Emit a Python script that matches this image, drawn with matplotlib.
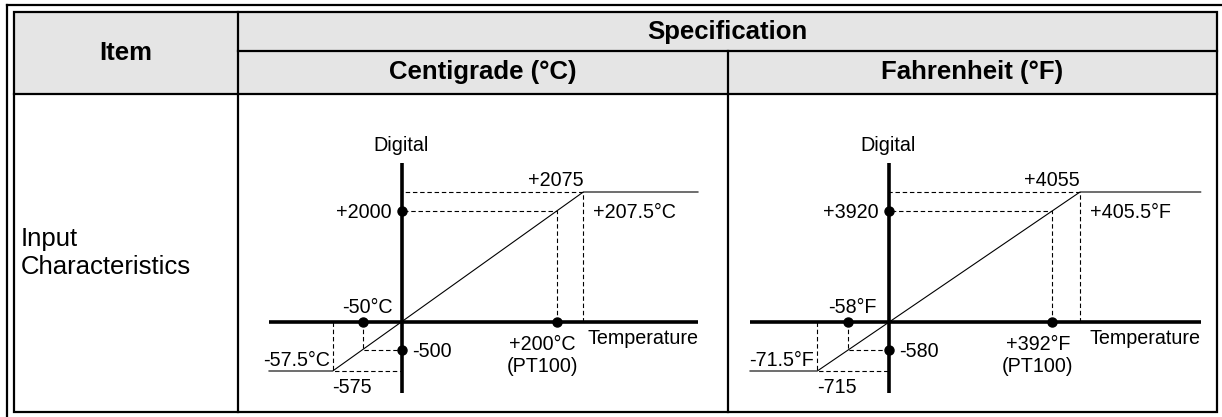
import numpy as np
import matplotlib
matplotlib.use("Agg")
import matplotlib.pyplot as plt
from matplotlib.patches import Rectangle

plt.rcParams['font.family'] = ['Liberation Sans', 'DejaVu Sans']

# table text
item_header = "Item"
spec_header = "Specification"
unit_headers = ["Centigrade (°C)", "Fahrenheit (°F)"]
row_label = "Input\nCharacteristics"

# transfer characteristic: low limit, low point, zero, high point, high limit
centi_temp = [-57.5, -50, 0, 200, 207.5]
centi_digital = [-575, -500, 0, 2000, 2075]
fahr_temp = [-71.5, -58, 0, 392, 405.5]
fahr_digital = [-715, -580, 0, 3920, 4055]
units = ["°C", "°F"]

# layout (pixels), the diagram is schematic so the axes use a knotted scale
W, H = 1222, 417
L, T, R, B = 14, 12.3, 1216.7, 412.3
C1, C2, R1, R2 = 238, 728, 50.7, 94
AX_TOP, AX_BOT, ORIGIN_Y = 163, 393, 322.3
Y_OFFS = [-48.7, -27.7, 0, 111.3, 130.3]
panels = [
    dict(box=(269, 698), origin=401.7, xoffs=[-69, -39, 0, 155, 181.6]),
    dict(box=(750, 1200.7), origin=889, xoffs=[-71.7, -41.3, 0, 162.7, 191]),
]

fig = plt.figure(figsize=(W / 100, H / 100), dpi=100)
base = fig.add_axes([0, 0, 1, 1])
base.set_xlim(0, W)
base.set_ylim(H, 0)
base.axis('off')

# table frame
base.add_patch(Rectangle((L, T), R - L, R2 - T, facecolor='#e5e5e5', edgecolor='none'))
lw = 1.6
base.plot([7, W], [5, 5], color='k', lw=lw)
base.plot([7, 7], [5, H], color='k', lw=lw)
base.add_patch(Rectangle((L, T), R - L, B - T, facecolor='none', edgecolor='k', lw=lw))
base.plot([C1, C1], [T, B], color='k', lw=lw)
base.plot([C1, R], [R1, R1], color='k', lw=lw)
base.plot([L, R], [R2, R2], color='k', lw=lw)
base.plot([C2, C2], [R1, B], color='k', lw=lw)

hfont = dict(fontsize=18.5, fontweight='bold', va='center', ha='center')
base.text((L + C1) / 2, (T + R2) / 2, item_header, **hfont)
base.text((C1 + R) / 2, (T + R1) / 2, spec_header, **hfont)
base.text((C1 + C2) / 2, (R1 + R2) / 2, unit_headers[0], **hfont)
base.text((C2 + R) / 2, (R1 + R2) / 2, unit_headers[1], **hfont)
base.text(21, (R2 + B) / 2, row_label, fontsize=18.5, va='center', ha='left')


def knot_scale(vals, offs):
    vals = np.asarray(vals, float)
    offs = np.asarray(offs, float)
    s0 = (offs[1] - offs[0]) / (vals[1] - vals[0])
    s1 = (offs[-1] - offs[-2]) / (vals[-1] - vals[-2])
    V = np.r_[vals[0] - 1e5, vals, vals[-1] + 1e5]
    O = np.r_[offs[0] - 1e5 * s0, offs, offs[-1] + 1e5 * s1]
    return (lambda v: np.interp(v, V, O)), (lambda o: np.interp(o, O, V))


def draw_panel(p, t, d, unit):
    x0, x1 = p['box']
    ax = fig.add_axes([x0 / W, (H - AX_BOT) / H, (x1 - x0) / W, (AX_BOT - AX_TOP) / H])
    fx, ix = knot_scale(t, p['xoffs'])
    fy, iy = knot_scale(d, Y_OFFS)
    ax.set_xscale('function', functions=(fx, ix))
    ax.set_yscale('function', functions=(fy, iy))
    ax.set_xlim(float(ix(x0 - p['origin'])), float(ix(x1 - p['origin'])))
    ax.set_ylim(float(iy(ORIGIN_Y - AX_BOT)), float(iy(ORIGIN_Y - AX_TOP)))
    ax.axis('off')
    xl = ax.get_xlim()
    yl = ax.get_ylim()

    # transfer line with saturation
    ax.plot([xl[0], t[0], t[4], xl[1]], [d[0], d[0], d[4], d[4]],
            color='k', lw=0.8, clip_on=False)
    for i in (0, 1, 3, 4):
        ax.plot([t[i], t[i], 0], [0, d[i], d[i]], color='k', lw=0.8,
                ls=(0, (4, 2.5)), clip_on=False)
    ax.axhline(0, color='k', lw=2.6, zorder=4)
    ax.axvline(0, color='k', lw=2.6, zorder=4)
    ax.plot([t[1], 0, t[3], 0], [0, d[1], 0, d[3]], 'o', color='k',
            ms=6.5, zorder=5, clip_on=False)

    def lab(s, xy, dx, dy, ha, va='baseline'):
        ax.annotate(s, xy, xytext=(dx, dy), textcoords='offset pixels',
                    ha=ha, va=va, fontsize=14.2, annotation_clip=False)

    lab("Digital", (0, yl[1]), -1, 8, 'center', 'bottom')
    lab(f"{d[4]:+g}", (t[4], d[4]), 0, 5.5, 'right')
    lab(f"{d[3]:+g}", (0, d[3]), -10, -7, 'right')
    lab(f"{t[4]:+g}{unit}", (t[4], d[3]), 10, -7, 'left')
    lab(f"{t[3]:+g}{unit}", (t[3], 0), -14, -27.7, 'center')
    lab("(PT100)", (t[3], 0), -14.5, -49.4, 'center')
    lab("Temperature", (xl[1], 0), 0, -21.7, 'right')
    lab(f"{t[1]:+g}{unit}", (t[1], 0), 5, 9, 'center')
    lab(f"{d[1]:+g}", (0, d[1]), 10, -6.7, 'left')
    lab(f"{t[0]:+g}{unit}", (t[0], d[0]), -3, 5, 'right')
    lab(f"{d[0]:+g}", (t[0], d[0]), -0.5, -22.3, 'left')


draw_panel(panels[0], centi_temp, centi_digital, units[0])
draw_panel(panels[1], fahr_temp, fahr_digital, units[1])

fig.savefig('out.png', dpi=100)
